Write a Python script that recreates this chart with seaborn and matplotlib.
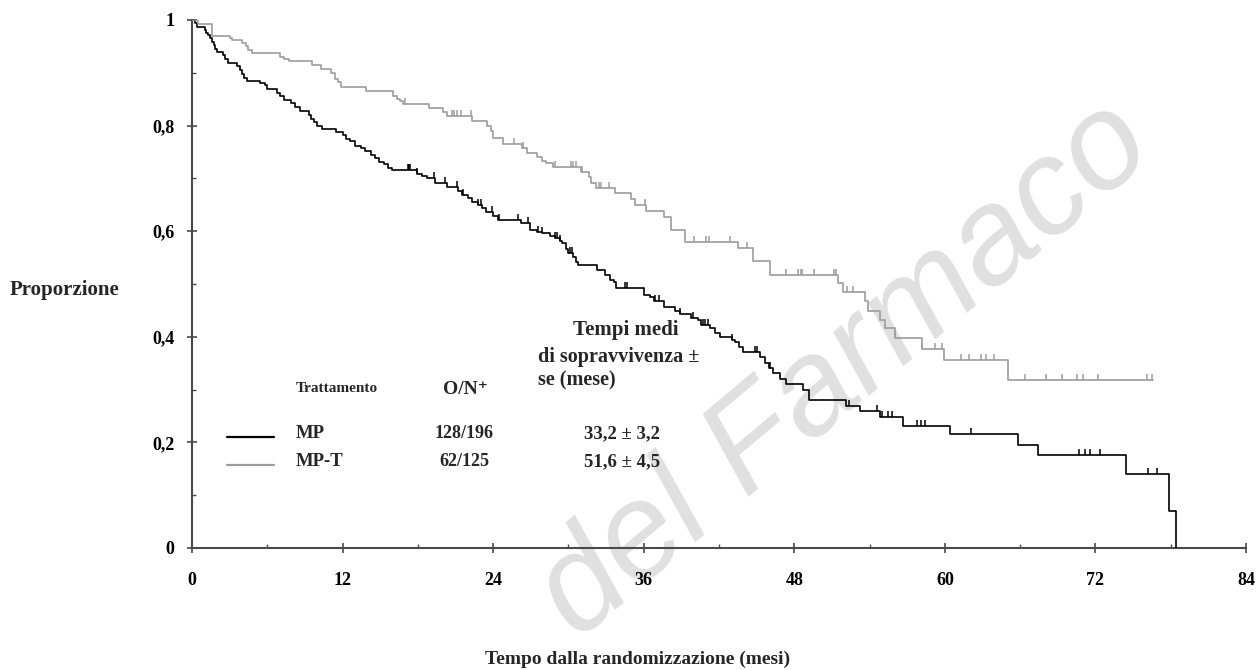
import numpy as np
import pandas as pd
import matplotlib
matplotlib.use("Agg")
import matplotlib.pyplot as plt
from matplotlib.path import Path
from matplotlib.lines import Line2D
from matplotlib.ticker import MultipleLocator
import seaborn as sns

# ---------------- data ----------------
groups = ["MP", "MP-T"]

mp_time = [0, 0.2, 0.4, 1.0, 1.1, 1.3, 1.45, 1.6, 1.75, 1.85, 2.0, 2.5, 2.65, 2.9,
           3.6, 3.8, 4.0, 4.15, 4.4, 5.4, 5.8, 6.0, 6.8, 7.0, 7.3, 7.9, 8.2, 8.6,
           9.3, 9.5, 9.7, 10.0, 10.4, 11.5, 12.0, 12.3, 12.6, 13.0, 13.5, 13.8,
           14.3, 14.6, 14.9, 15.3, 15.6, 15.9, 17.9, 18.3, 18.7, 19.4, 20.3, 21.2,
           21.5, 22.0, 22.3, 22.8, 23.1, 23.4, 24.0, 24.4, 26.2, 26.9, 27.5, 27.9,
           28.5, 28.9, 29.3, 29.5, 29.8, 30.0, 30.4, 30.6, 30.8, 32.3, 32.9, 33.3,
           33.6, 33.8, 36.0, 36.5, 36.8, 37.6, 38.5, 38.9, 39.8, 40.3, 40.6, 41.3,
           41.7, 42.1, 43.0, 43.3, 43.6, 43.9, 45.3, 45.7, 46.0, 46.3, 46.9, 47.3,
           48.7, 49.2, 52.1, 53.2, 54.8, 56.7, 60.4, 65.8, 67.4, 74.4, 77.9, 78.4]
mp_surv = [1.0, 0.995, 0.987, 0.982, 0.976, 0.972, 0.965, 0.959, 0.952, 0.946, 0.940,
           0.933, 0.927, 0.919, 0.912, 0.905, 0.897, 0.891, 0.884, 0.881, 0.877, 0.869,
           0.862, 0.857, 0.848, 0.843, 0.836, 0.828, 0.821, 0.813, 0.806, 0.800, 0.793,
           0.787, 0.782, 0.775, 0.770, 0.762, 0.757, 0.751, 0.745, 0.738, 0.731, 0.727,
           0.720, 0.715, 0.709, 0.705, 0.700, 0.692, 0.684, 0.677, 0.669, 0.662, 0.656,
           0.650, 0.643, 0.637, 0.629, 0.621, 0.615, 0.602, 0.599, 0.596, 0.590, 0.587,
           0.582, 0.577, 0.567, 0.558, 0.552, 0.542, 0.536, 0.527, 0.517, 0.508, 0.504,
           0.492, 0.480, 0.476, 0.467, 0.457, 0.449, 0.443, 0.435, 0.432, 0.422, 0.416,
           0.407, 0.400, 0.394, 0.390, 0.381, 0.372, 0.362, 0.350, 0.340, 0.331, 0.320,
           0.311, 0.299, 0.280, 0.269, 0.259, 0.249, 0.232, 0.215, 0.195, 0.176, 0.141,
           0.071, 0.0]
mp_censor = [17.2, 17.3, 17.4, 17.9, 19.3, 20.2, 21.1, 21.6, 22.8, 23.0, 23.9, 24.5,
             26.0, 26.8, 27.6, 27.9, 28.9, 29.1, 29.3, 30.1, 30.3, 34.5, 34.7, 36.9,
             37.2, 38.9, 39.9, 40.7, 40.9, 41.1, 43.0, 44.9, 45.0, 46.1, 52.4, 54.6,
             55.0, 55.5, 55.8, 57.8, 58.1, 58.4, 62.1, 70.7, 71.2, 71.6, 72.4, 76.2,
             76.9]

mpt_time = [0, 0.5, 1.6, 3.0, 3.2, 4.0, 4.3, 4.5, 4.8, 7.0, 7.3, 7.7, 9.6, 10.3, 11.1,
            11.4, 11.6, 11.9, 13.9, 16.0, 16.3, 16.6, 16.8, 18.9, 20.0, 20.3, 22.3,
            23.5, 23.8, 24.0, 24.8, 26.3, 26.7, 27.5, 27.9, 28.2, 28.8, 31.0, 31.6,
            31.8, 32.2, 33.7, 35.0, 35.3, 36.2, 37.6, 38.2, 39.3, 43.5, 44.7, 46.1,
            51.5, 51.9, 53.6, 53.9, 54.8, 55.2, 56.0, 58.2, 59.9, 65.0, 76.6]
mpt_surv = [1.0, 0.992, 0.970, 0.965, 0.962, 0.956, 0.950, 0.944, 0.938, 0.930, 0.926,
            0.922, 0.915, 0.907, 0.899, 0.889, 0.882, 0.874, 0.866, 0.857, 0.851, 0.846,
            0.841, 0.834, 0.826, 0.818, 0.809, 0.800, 0.790, 0.776, 0.766, 0.757, 0.748,
            0.740, 0.733, 0.729, 0.721, 0.713, 0.703, 0.692, 0.681, 0.672, 0.661, 0.650,
            0.639, 0.626, 0.602, 0.580, 0.569, 0.544, 0.517, 0.501, 0.484, 0.467, 0.449,
            0.432, 0.416, 0.398, 0.376, 0.356, 0.318, 0.318]
mpt_censor = [17.0, 20.7, 20.9, 21.1, 21.4, 22.2, 25.7, 26.4, 28.9, 30.2, 30.4, 30.6,
              31.1, 32.4, 32.6, 33.2, 36.1, 40.0, 41.0, 41.2, 42.9, 44.2, 47.3, 48.3,
              48.5, 48.6, 49.6, 51.2, 51.3, 52.2, 52.7, 56.0, 58.2, 59.2, 59.8, 61.3,
              61.9, 62.9, 63.3, 63.9, 66.4, 68.1, 69.3, 70.5, 71.0, 72.2, 76.1, 76.5]

x_ticks = [0, 12, 24, 36, 48, 60, 72, 84]
y_ticks = [0, 0.2, 0.4, 0.6, 0.8, 1.0]
y_tick_labels = ["0", "0,2", "0,4", "0,6", "0,8", "1"]

legend_title = "Trattamento"
events_title = "O/N\u207a"
events = ["128/196", "62/125"]
median_lines = ["Tempi medi", "di sopravvivenza \u00b1", "se (mese)"]
medians = ["33,2 \u00b1 3,2", "51,6 \u00b1 4,5"]
ylabel = "Proporzione"
xlabel = "Tempo dalla randomizzazione (mesi)"
watermark = "del Farmaco"

# ---------------- style ----------------
sns.set_theme(style="white")
serif = ["Liberation Serif", "DejaVu Serif"]
plt.rcParams["font.family"] = serif
plt.rcParams["font.weight"] = "bold"

colors = {"MP": "#000000", "MP-T": "#9c9c9c"}

W, H = 1259, 670
fig = plt.figure(figsize=(W / 100, H / 100), dpi=100)
fig.patch.set_facecolor("white")
L, R, T, B = 192, 1246, 20, 548
ax = fig.add_axes([L / W, 1 - B / H, (R - L) / W, (B - T) / H])
ax.set_facecolor("none")
ax.set_zorder(2)


def fx(px):
    return px / W


def fy(py):
    return 1 - py / H


# watermark (light, behind the chart)
fig.text(fx(845), fy(370), watermark, rotation=40, fontsize=98,
         color="#e0e0e0", ha="center", va="center",
         family=["Liberation Sans Narrow", "Liberation Sans", "DejaVu Sans"],
         fontstyle="italic", fontweight="normal", zorder=-5)

df = pd.concat([
    pd.DataFrame({"time": mp_time, "surv": mp_surv, "group": "MP"}),
    pd.DataFrame({"time": mpt_time, "surv": mpt_surv, "group": "MP-T"}),
], ignore_index=True)

sns.lineplot(data=df, x="time", y="surv", hue="group", palette=colors,
             drawstyle="steps-post", estimator=None, sort=False, legend=False,
             linewidth=1.2, ax=ax, zorder=3)


def censor_df(times, survs, cens, g):
    t = np.asarray(times)
    s = np.asarray(survs)
    idx = np.searchsorted(t, cens, side="right") - 1
    return pd.DataFrame({"time": cens, "surv": s[idx], "group": g})


cdf = pd.concat([censor_df(mp_time, mp_surv, mp_censor, "MP"),
                 censor_df(mpt_time, mpt_surv, mpt_censor, "MP-T")],
                ignore_index=True)
tick_marker = Path([(0, 0), (0, 1)])
for g in groups:
    sub = cdf[cdf["group"] == g]
    sns.scatterplot(data=sub, x="time", y="surv", marker=tick_marker, s=75,
                    color=colors[g], edgecolor=colors[g], linewidth=1.1,
                    legend=False, ax=ax, zorder=4)

ax.set_xlim(0, 84)
ax.set_ylim(0, 1)
ax.set_xticks(x_ticks)
ax.set_xticklabels([str(v) for v in x_ticks])
ax.set_yticks(y_ticks)
ax.set_yticklabels(y_tick_labels)
ax.xaxis.set_minor_locator(MultipleLocator(6))
ax.yaxis.set_minor_locator(MultipleLocator(0.1))
ax.set_xlabel("")
ax.set_ylabel("")

for side in ["top", "right"]:
    ax.spines[side].set_visible(False)
for side in ["left", "bottom"]:
    ax.spines[side].set_color("#4a4a4a")
    ax.spines[side].set_linewidth(1.5)

ax.tick_params(axis="both", which="major", direction="inout", length=7,
               width=1.2, color="#4a4a4a", labelsize=13, labelcolor="black")
ax.tick_params(axis="both", which="minor", direction="in", length=3,
               width=1.0, color="#4a4a4a")
ax.tick_params(axis="x", which="major", pad=14, bottom=True)
ax.tick_params(axis="y", which="major", pad=9, left=True)
ax.tick_params(axis="x", which="minor", bottom=True)
ax.tick_params(axis="y", which="minor", left=True)
for lab in ax.get_xticklabels() + ax.get_yticklabels():
    lab.set_fontweight("bold")

# axis titles
fig.text(fx(10), fy(290), ylabel, ha="left", va="center", fontsize=15, fontweight="bold")
fig.text(fx(638), fy(659), xlabel, ha="center", va="center", fontsize=14, fontweight="bold")

# legend block
fig.text(fx(296), fy(388), legend_title, ha="left", va="center", fontsize=11, fontweight="bold")
fig.text(fx(465), fy(389), events_title, ha="center", va="center", fontsize=14, fontweight="bold")
fig.text(fx(626), fy(330), median_lines[0], ha="center", va="center", fontsize=15, fontweight="bold")
fig.text(fx(538), fy(357), median_lines[1], ha="left", va="center", fontsize=14.5, fontweight="bold")
fig.text(fx(538), fy(380), median_lines[2], ha="left", va="center", fontsize=14.5, fontweight="bold")

row_y = [434, 462]
for g, ev, med, yy in zip(groups, events, medians, row_y):
    fig.add_artist(Line2D([fx(227), fx(274)], [fy(yy + 3), fy(yy + 3)],
                          color=colors[g], linewidth=1.6))
    fig.text(fx(296), fy(yy), g, ha="left", va="center", fontsize=13.5, fontweight="bold")
    fig.text(fx(464), fy(yy), ev, ha="center", va="center", fontsize=13, fontweight="bold")
    fig.text(fx(584), fy(yy), med, ha="left", va="center", fontsize=13.5, fontweight="bold")

fig.savefig("out.png", dpi=100, facecolor="white")
